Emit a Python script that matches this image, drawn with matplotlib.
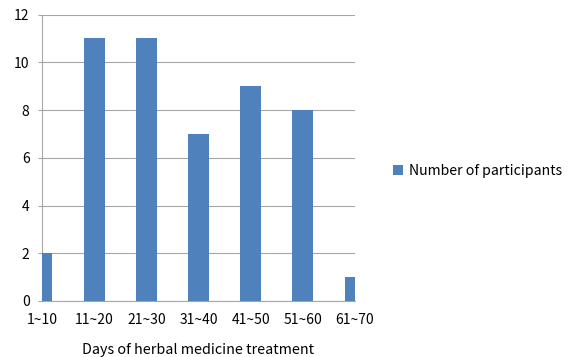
import matplotlib.pyplot as plt
from matplotlib.patches import Patch

categories = ["1~10", "11~20", "21~30", "31~40", "41~50", "51~60", "61~70"]
participants = [2, 11, 11, 7, 9, 8, 1]

BAR_COLOR = "#4F81BD"
GRID_COLOR = "#A6A6A6"

plt.rcParams["font.family"] = ["Noto Sans CJK KR", "DejaVu Sans"]


def main():
    fig = plt.figure(figsize=(5.7, 3.57), dpi=100)
    ax = fig.add_axes([0.0737, 0.157, 0.549, 0.802])

    x = list(range(len(categories)))
    ax.bar(x, participants, width=0.4, color=BAR_COLOR, zorder=3)

    ax.set_xlim(0, len(categories) - 1)
    ax.set_ylim(0, 12)
    ax.set_yticks(range(0, 13, 2))
    ax.set_xticks(x)
    ax.set_xticklabels(categories)

    ax.grid(True, axis="y", color=GRID_COLOR, linewidth=0.8, zorder=0)
    for side in ["top", "right"]:
        ax.spines[side].set_visible(False)
    for side in ["left", "bottom"]:
        ax.spines[side].set_color(GRID_COLOR)
        ax.spines[side].set_linewidth(0.8)

    ax.tick_params(axis="y", length=3, color=GRID_COLOR, labelsize=10, pad=6)
    ax.tick_params(axis="x", length=0, labelsize=10, pad=9)
    ax.set_xlabel("Days of herbal medicine treatment", fontsize=10.3, labelpad=11)

    handle = Patch(facecolor=BAR_COLOR, edgecolor="none")
    fig.legend([handle], ["Number of participants"], loc="center left",
               bbox_to_anchor=(0.667, 0.52), frameon=False, fontsize=10.2,
               handlelength=0.7, handleheight=0.7, handletextpad=0.4)

    fig.savefig("out.png", dpi=100)


if __name__ == "__main__":
    main()
